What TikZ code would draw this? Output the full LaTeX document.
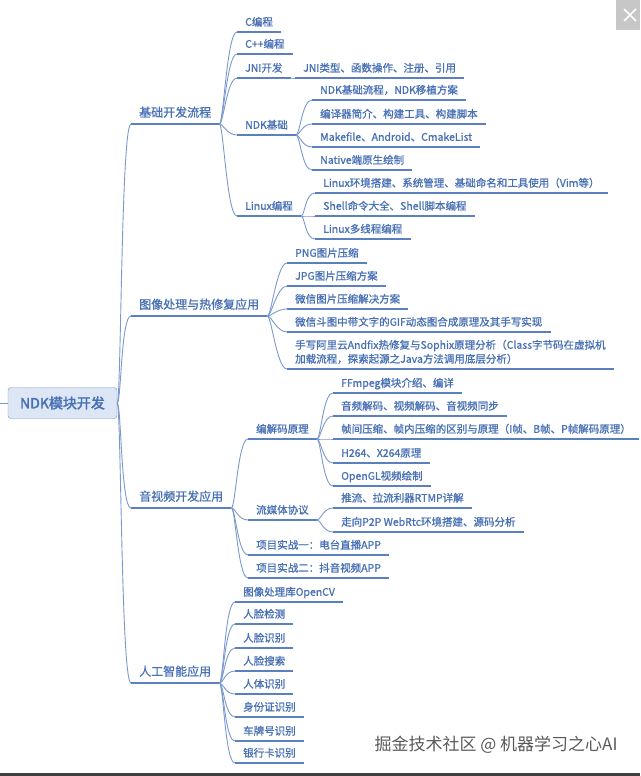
\documentclass[tikz,border=0pt]{standalone}
\usepackage{fontspec}
\setmainfont{Noto Sans CJK SC}
\newfontfamily\cjk[FakeBold=1.1]{Noto Sans CJK SC}
\newfontfamily\cjkroot[FakeBold=2.4]{Noto Sans CJK SC}
\newfontfamily\cjkmark{Noto Sans CJK SC}
\usetikzlibrary{calc}

\definecolor{mapblue}{HTML}{5A80C0}
\definecolor{textblue}{HTML}{4870B5}
\definecolor{rootfill}{HTML}{DCE6F4}
\definecolor{rootdraw}{HTML}{7E95BF}

\tikzset{
  topic/.style={anchor=south west, inner xsep=8pt, inner ysep=4pt, text depth=2pt,
    text=textblue, font=\cjk\fontsize{10.5}{14}\selectfont},
  maintopic/.style={topic, inner ysep=5pt, font=\cjk\fontsize{12}{14}\selectfont},
  uline/.style={draw=mapblue, line width=1.5pt},
  curve/.style={draw=mapblue!80, line width=0.9pt},
  branch/.style={curve, to path={.. controls +(4pt,0pt) and +(-10pt,0pt) .. (\tikztotarget)}}
}

\begin{document}
\begin{tikzpicture}[x=1pt,y=-1pt]
\useasboundingbox (0,0) rectangle (640,776);

% root
\node[draw=rootdraw, fill=rootfill, rounded corners=3pt, minimum width=109pt, minimum height=31pt,
  inner sep=0pt, text=textblue, font=\cjkroot\fontsize{14}{16}\selectfont] (ndk) at (62.5,403) {NDK模块开发};
\coordinate (stub) at (0,403);
\draw[curve] (stub) -- (ndk.west);

% main branches
\node[maintopic] (base) at (131,124) {基础开发流程};
\node[maintopic] (img) at (131,316) {图像处理与热修复应用};
\node[maintopic] (av) at (131,508) {音视频开发应用};
\node[maintopic] (ai) at (131,683) {人工智能应用};

% 基础开发流程
\node[topic] (cprog) at (237,32) {C编程};
\node[topic] (cpp) at (237,54) {C++编程};
\node[topic] (jni) at (237,78) {JNI开发};
\node[topic] (jnitype) at (295,78) {JNI类型、函数操作、注册、引用};
\node[topic] (ndkbase) at (237,135) {NDK基础};
\node[topic] (linux) at (237,216) {Linux编程};
\node[topic] (ndkflow) at (312,100) {NDK基础流程，NDK移植方案};
\node[topic] (compiler) at (312,124) {编译器简介、构建工具、构建脚本};
\node[topic] (makefile) at (312,147) {Makefile、Android、CmakeList};
\node[topic] (native) at (312,170) {Native端原生绘制};
\node[topic] (linuxenv) at (315,193) {Linux环境搭建、系统管理、基础命名和工具使用（Vim等）};
\node[topic] (shell) at (315,216) {Shell命令大全、Shell脚本编程};
\node[topic] (thread) at (315,239) {Linux多线程编程};

% 图像处理与热修复应用
\node[topic] (png) at (287,263) {PNG图片压缩};
\node[topic] (jpg) at (287,286) {JPG图片压缩方案};
\node[topic] (wxpic) at (287,309) {微信图片压缩解决方案};
\node[topic] (gif) at (287,332) {微信斗图中带文字的GIF动态图合成原理及其手写实现};
\node[topic, align=left] (andfix) at (287,369) {手写阿里云Andfix热修复与Sophix原理分析（Class字节码在虚拟机\\加载流程，探索起源之Java方法调用底层分析）};

% 音视频开发应用
\node[topic] (codec) at (248,439) {编解码原理};
\node[topic] (stream) at (248,520) {流媒体协议};
\node[topic] (proj1) at (248,555) {项目实战一：电台直播APP};
\node[topic] (proj2) at (248,578) {项目实战二：抖音视频APP};
\node[topic] (ffmpeg) at (333,393) {FFmpeg模块介绍、编详};
\node[topic] (audio) at (333,416) {音频解码、视频解码、音视频同步};
\node[topic] (frame) at (333,439) {帧间压缩、帧内压缩的区别与原理（I帧、B帧、P帧解码原理）};
\node[topic] (h264) at (333,463) {H264、X264原理};
\node[topic] (opengl) at (333,486) {OpenGL视频绘制};
\node[topic] (rtmp) at (333,508) {推流、拉流利器RTMP详解};
\node[topic] (webrtc) at (333,532) {走向P2P WebRtc环境搭建、源码分析};

% 人工智能应用
\node[topic] (opencv) at (235,602) {图像处理库OpenCV};
\node[topic] (facedet) at (235,624) {人脸检测};
\node[topic] (facerec) at (235,648) {人脸识别};
\node[topic] (facesearch) at (235,671) {人脸搜索};
\node[topic] (body) at (235,694) {人体识别};
\node[topic] (idcard) at (235,717) {身份证识别};
\node[topic] (plate) at (235,741) {车牌号识别};
\node[topic] (bank) at (235,763) {银行卡识别};

% underlines
\foreach \n in {base,img,av,ai,cprog,cpp,jni,jnitype,ndkbase,linux,ndkflow,compiler,makefile,native,
  linuxenv,shell,thread,png,jpg,wxpic,gif,andfix,codec,stream,proj1,proj2,ffmpeg,audio,frame,h264,opengl,
  rtmp,webrtc,opencv,facedet,facerec,facesearch,body,idcard,plate,bank}
  \draw[uline] (\n.south west) -- (\n.south east);

% connectors
\foreach \c in {base,img,av,ai}
  \draw[branch] (ndk.east) to (\c.south west);
\foreach \a/\b in {base/cprog,base/cpp,base/jni,base/ndkbase,base/linux,jni/jnitype,
  ndkbase/ndkflow,ndkbase/compiler,ndkbase/makefile,ndkbase/native,
  linux/linuxenv,linux/shell,linux/thread,
  img/png,img/jpg,img/wxpic,img/gif,img/andfix,
  av/codec,av/stream,av/proj1,av/proj2,
  codec/ffmpeg,codec/audio,codec/frame,codec/h264,codec/opengl,stream/rtmp,stream/webrtc,
  ai/opencv,ai/facedet,ai/facerec,ai/facesearch,ai/body,ai/idcard,ai/plate,ai/bank}
  \draw[branch] (\a.south east) to (\b.south west);

% watermark and frame bits
\node[anchor=west, text=black!65, font=\cjkmark\fontsize{17}{20}\selectfont] (mark) at (371,745) {掘金技术社区 @ 机器学习之心AI};
\fill[black!75] (0,773) rectangle (640,776);
\fill[black!22] (616,0) rectangle (640,30);
\draw[white, line width=1.6pt] (624,9) -- (636,21) (636,9) -- (624,21);
\end{tikzpicture}
\end{document}
